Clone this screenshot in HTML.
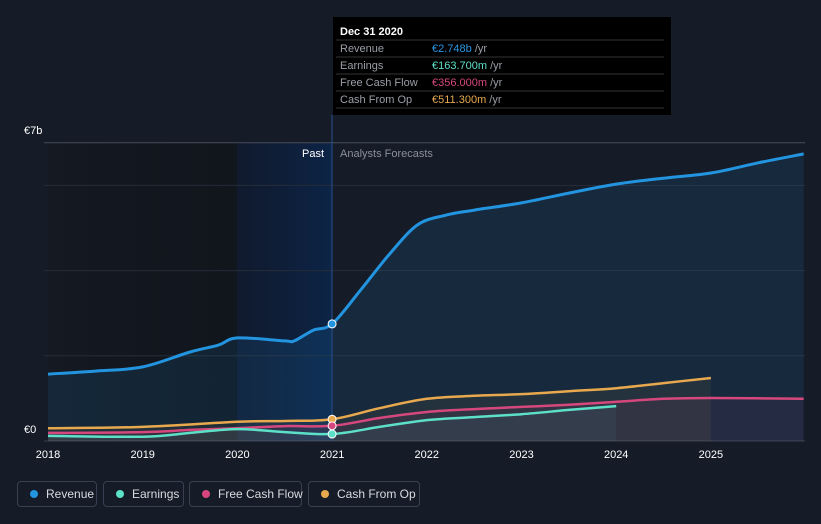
<!DOCTYPE html>
<html><head><meta charset="utf-8"><style>
body{margin:0;background:#151b27;font-family:"Liberation Sans",sans-serif;}
svg{display:block}
.leg{position:absolute;top:481px;height:26px;border:1px solid #394050;border-radius:4px;color:#d8dbe0;font-size:12px;line-height:24px;box-sizing:border-box;padding-left:28px;white-space:nowrap}
.leg i{position:absolute;left:12px;top:8px;width:8px;height:8px;border-radius:50%}
</style></head><body>
<div style="position:relative;width:821px;height:524px;overflow:hidden">
<svg id="c" width="821" height="524">
<defs>
<linearGradient id="past" x1="0" x2="1"><stop offset="0" stop-color="#0e1a33" stop-opacity="0.6"/><stop offset="1" stop-color="#0c2447"/></linearGradient>
<linearGradient id="dark" x1="0" x2="1"><stop offset="0" stop-color="#141922"/><stop offset="1" stop-color="#11151c"/></linearGradient>
</defs>
<rect x="48" y="143" width="189" height="298" fill="url(#dark)"/>
<rect x="237" y="143" width="95" height="298" fill="url(#past)"/>
<g id="grid"></g>
<g id="areas"></g>
<g id="lines"></g>
<line x1="332" y1="115" x2="332" y2="441" stroke="#2a4f8f" stroke-width="1"/>
<text x="324" y="157" fill="#fff" font-size="11" text-anchor="end">Past</text>
<text x="340" y="157" fill="#8a8f98" font-size="11">Analysts Forecasts</text>
<text x="24" y="134" fill="#fff" font-size="11">€7b</text>
<text x="24" y="433" fill="#fff" font-size="11">€0</text>
<g id="xt"></g>
<g id="dots"></g>
<g>
<rect x="333" y="17" width="338" height="98" fill="#000"/>
<text x="340" y="35" fill="#fff" font-size="11" font-weight="bold">Dec 31 2020</text>
<g font-size="11">
<line x1="336" y1="40" x2="664" y2="40" stroke="#333"/>
<text x="340" y="52" fill="#9a9ea6">Revenue</text><text x="432" y="52" fill="#2a97e6">€2.748b <tspan fill="#9a9ea6">/yr</tspan></text>
<line x1="336" y1="57" x2="664" y2="57" stroke="#333"/>
<text x="340" y="69" fill="#9a9ea6">Earnings</text><text x="432" y="69" fill="#5de0c8">€163.700m <tspan fill="#9a9ea6">/yr</tspan></text>
<line x1="336" y1="74" x2="664" y2="74" stroke="#333"/>
<text x="340" y="86" fill="#9a9ea6">Free Cash Flow</text><text x="432" y="86" fill="#d6487d">€356.000m <tspan fill="#9a9ea6">/yr</tspan></text>
<line x1="336" y1="91" x2="664" y2="91" stroke="#333"/>
<text x="340" y="103" fill="#9a9ea6">Cash From Op</text><text x="432" y="103" fill="#e8a94e">€511.300m <tspan fill="#9a9ea6">/yr</tspan></text>
<line x1="336" y1="108" x2="664" y2="108" stroke="#333"/>
</g></g>
</svg>
<div class="leg" style="left:17px;width:80px"><i style="background:#2394df"></i>Revenue</div>
<div class="leg" style="left:103px;width:81px"><i style="background:#5de0c8"></i>Earnings</div>
<div class="leg" style="left:189px;width:113px"><i style="background:#d6487d"></i>Free Cash Flow</div>
<div class="leg" style="left:308px;width:112px"><i style="background:#e8a94e"></i>Cash From Op</div>
</div>
<script>
const xTicks=[2018,2019,2020,2021,2022,2023,2024,2025];
const gridVals=[2,4,6,7];
const revT=[2018,2018.5,2019,2019.5,2019.8,2020,2020.5,2020.6,2020.8,2021,2021.3,2021.6,2021.9,2022.2,2022.5,2023,2023.5,2024,2024.5,2025,2025.5,2025.98];
const revV=[1.57,1.64,1.74,2.09,2.25,2.42,2.35,2.35,2.6,2.748,3.54,4.37,5.07,5.3,5.42,5.59,5.82,6.03,6.17,6.29,6.53,6.74];
const cfoT=[2018,2019,2020,2020.5,2021,2021.5,2022,2022.5,2023,2023.5,2024,2024.5,2025];
const cfoV=[0.3,0.33,0.45,0.47,0.511,0.77,0.99,1.06,1.1,1.17,1.24,1.36,1.48];
const fcfT=[2018,2019,2019.5,2020,2020.5,2021,2021.5,2022,2022.5,2023,2023.5,2024,2024.5,2025,2025.98];
const fcfV=[0.19,0.21,0.26,0.3,0.35,0.356,0.54,0.68,0.75,0.8,0.85,0.92,0.99,1.01,0.99];
const earT=[2018,2019,2019.5,2020,2020.5,2021,2021.5,2022,2022.5,2023,2023.5,2024];
const earV=[0.12,0.1,0.19,0.28,0.21,0.164,0.33,0.49,0.56,0.63,0.73,0.82];
const X=t=>48+(t-2018)*94.7, Y=v=>441-v*42.6;
const NS='http://www.w3.org/2000/svg';
function mk(tag,attrs,parent){const e=document.createElementNS(NS,tag);for(const k in attrs)e.setAttribute(k,attrs[k]);document.getElementById(parent).appendChild(e);return e;}
const g0=mk('line',{x1:44,x2:805,y1:441,y2:441,stroke:'#3a404c'},'grid');


gridVals.forEach(v=>{const l=mk('line',{x1:44,x2:805,y1:Y(v),y2:Y(v),stroke:v==7?'#464c58':'#262c38'},'grid');

});
xTicks.forEach(t=>{const e=mk('text',{x:X(t),y:458,fill:'#fff','font-size':11,'text-anchor':'middle'},'xt');e.textContent=t;

});
function path(T,V){
 const p=T.map((t,i)=>[X(t),Y(V[i])]);
 let d='M'+p[0][0].toFixed(1)+','+p[0][1].toFixed(1);
 for(let i=0;i<p.length-1;i++){
  const p0=p[Math.max(0,i-1)],p1=p[i],p2=p[i+1],p3=p[Math.min(p.length-1,i+2)];
  const c1=[p1[0]+(p2[0]-p0[0])/6,p1[1]+(p2[1]-p0[1])/6];
  const c2=[p2[0]-(p3[0]-p1[0])/6,p2[1]-(p3[1]-p1[1])/6];
  d+='C'+c1.map(v=>v.toFixed(1))+' '+c2.map(v=>v.toFixed(1))+' '+p2.map(v=>v.toFixed(1));
 }
 return d;
}
function series(T,V,col,name,fillOp){
 const d=path(T,V);
 const a=mk('path',{d:d+'L'+X(T[T.length-1])+',441L'+X(T[0])+',441Z',fill:col,'fill-opacity':fillOp},'areas');
 
 
 const l=mk('path',{d:d,fill:'none',stroke:col,'stroke-width':name=='revenue'?3:2.5,'stroke-linejoin':'round'},'lines');
 
 
 const i=T.indexOf(2021);
 const c=mk('circle',{cx:X(2021),cy:Y(V[i]),r:4,fill:col,stroke:'#fff','stroke-width':1},'dots');
 
 
}
series(revT,revV,'#2394df','revenue',0.12);
series(cfoT,cfoV,'#e8a94e','cash-from-op',0.07);
series(fcfT,fcfV,'#d6487d','free-cash-flow',0.08);
series(earT,earV,'#5de0c8','earnings',0.06);
</script>
</body></html>
